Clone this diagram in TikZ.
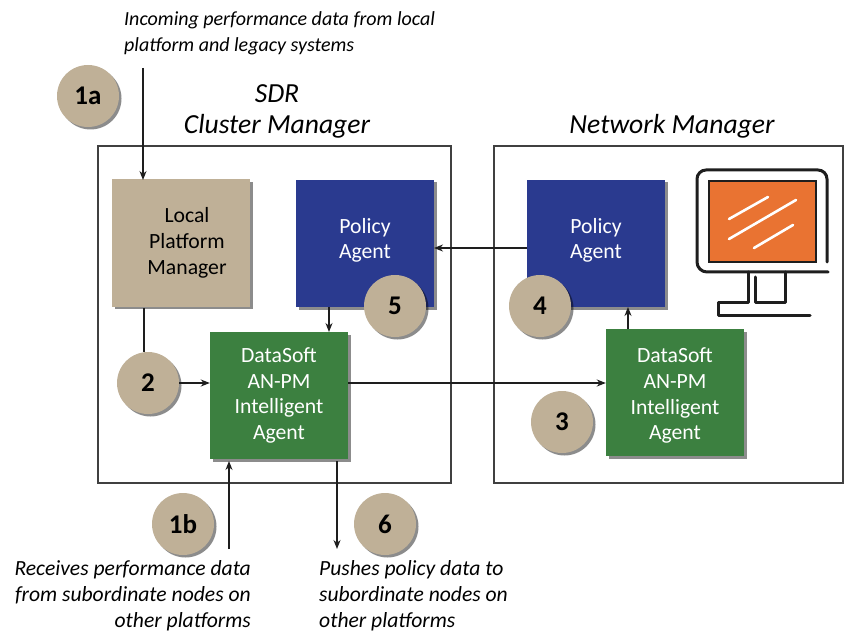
\documentclass[tikz,border=0pt]{standalone}
\usepackage{fontspec}
\setmainfont{Carlito}
\usetikzlibrary{arrows.meta}
\usetikzlibrary{shadows}
\usetikzlibrary{positioning}
\definecolor{tan}{HTML}{BFB097}
\definecolor{navy}{HTML}{2A3A8F}
\definecolor{leaf}{HTML}{3C8040}
\definecolor{screen}{HTML}{E97332}
\definecolor{ink}{HTML}{1E1E1E}
\newcommand{\nudge}{\hspace*{12pt}}
\tikzset{
  shade/.style={drop shadow={shadow xshift=2.5pt,shadow yshift=-2.5pt,fill=black,opacity=0.45}},
  block/.style={shade,minimum width=138pt,minimum height=127pt,inner sep=0pt,align=center,
    font=\fontsize{21.7}{25.8}\selectfont},
  tanblock/.style={block,fill=tan,text=black},
  policy/.style={block,fill=navy,text=white},
  agent/.style={block,fill=leaf,text=white},
  frame/.style={draw=ink!85,line width=1.6pt},
  num/.style={circle,shade,fill=tan,minimum size=62pt,inner sep=0pt,
    font=\fontsize{27}{30}\selectfont\bfseries},
  note/.style={inner sep=0pt,align=left,font=\fontsize{21.6}{26}\selectfont\itshape},
  title/.style={inner sep=0pt,align=center,font=\fontsize{27.6}{31}\selectfont\itshape},
  arr/.style={line width=1.4pt,ink,-{Stealth[length=9pt,width=7pt]}},
  bar/.style={ink,line width=3pt,line cap=round,line join=round}
}
\begin{document}
\begin{tikzpicture}[x=1pt,y=-1pt]
  \useasboundingbox (0,0) rectangle (849,631);
  \draw[frame] (98,146) rectangle (451,483);
  \draw[frame] (494,146) rectangle (843,483);

  \node[title] (sdr) at (277,111) {SDR\\Cluster Manager};
  \node[title] (nm) at (672,126) {Network Manager};

  \node[tanblock] (lpm) at (181,243) {\nudge Local\\\nudge Platform\\\nudge Manager};
  \node[policy] (polA) at (365,243.5) {Policy\\Agent\rule[-10pt]{0pt}{1pt}};
  \node[policy] (polB) at (596,243.5) {Policy\\Agent\rule[-10pt]{0pt}{1pt}};
  \node[agent] (agtA) at (279,395.5) {DataSoft\\AN-PM\\Intelligent\\Agent};
  \node[agent] (agtB) at (675,392.5) {\rule{0pt}{21pt}DataSoft\\AN-PM\\Intelligent\\Agent};

  \node[num] (n1a) at (88,96) {1a};
  \node[num] (n2) at (148,383) {2};
  \node[num] (n3) at (562,422) {3};
  \node[num] (n4) at (540,306) {4};
  \node[num] (n5) at (395,306) {5};
  \node[num] (n1b) at (183,524) {1b};
  \node[num] (n6) at (385,524) {6};

  \node[note,anchor=north west,font=\fontsize{20}{26}\selectfont\itshape] (inc) at (124,11) {Incoming performance data from local\\platform and legacy systems};
  \node[note,anchor=north east,align=right] (rec) at (251,560) {Receives performance data\\from subordinate nodes on\\other platforms};
  \node[note,anchor=north west] (push) at (319,560) {Pushes policy data to\\subordinate nodes on\\other platforms};

  % free ends of the arrows
  \coordinate (inTop) at (143,68);
  \coordinate (inEnd) at (143,180);
  \coordinate (recBot) at (229,549);
  \coordinate (recEnd) at (229,461);
  \coordinate (pushTop) at (337,461);
  \coordinate (pushEnd) at (337,549);
  \coordinate (lpmBot) at (144,308);
  \coordinate (polBot) at (329,307);
  \coordinate (polEnd) at (329,332);
  \coordinate (agtTop) at (628,329);
  \coordinate (agtEnd) at (628,307);
  \coordinate (polB1) at (527,248);
  \coordinate (polA1) at (434,248);

  \draw[arr] (inTop) -- (inEnd);
  \draw[line width=1.4pt,ink] (lpmBot) -- (lpmBot |- n2.north);
  \draw[arr] (n2) ++(31,0) -- (agtA.west |- n2);
  \draw[arr] (polBot) -- (polEnd);
  \draw[arr] (agtA.east |- n2) -- (agtB.west |- n2);
  \draw[arr] (agtTop) -- (agtEnd);
  \draw[arr] (polB1) -- (polA1);
  \draw[arr] (recBot) -- (recEnd);
  \draw[arr] (pushTop) -- (pushEnd);

  % monitor
  \draw[bar] (827,262) -- (827,179) arc[start angle=0,end angle=-90,radius=9] -- (706,170)
    arc[start angle=-90,end angle=-180,radius=9] -- (697,262)
    arc[start angle=180,end angle=90,radius=10] -- (828,272);
  \draw[fill=screen,draw=ink,line width=2pt] (709,181) rectangle (816,262);
  \draw[bar] (748,272) -- (748,302) -- (718,302) -- (718,315) -- (810,315);
  \draw[bar] (755,277) -- (755,302) -- (785,302) -- (785,272);
  \foreach \a/\b/\c/\d in {729/219/768/197,729/239/796/200,754/248/793/225}{
    \draw[white,line width=2.6pt,line cap=round] (\a,\b) -- (\c,\d);
  }
\end{tikzpicture}
\end{document}
